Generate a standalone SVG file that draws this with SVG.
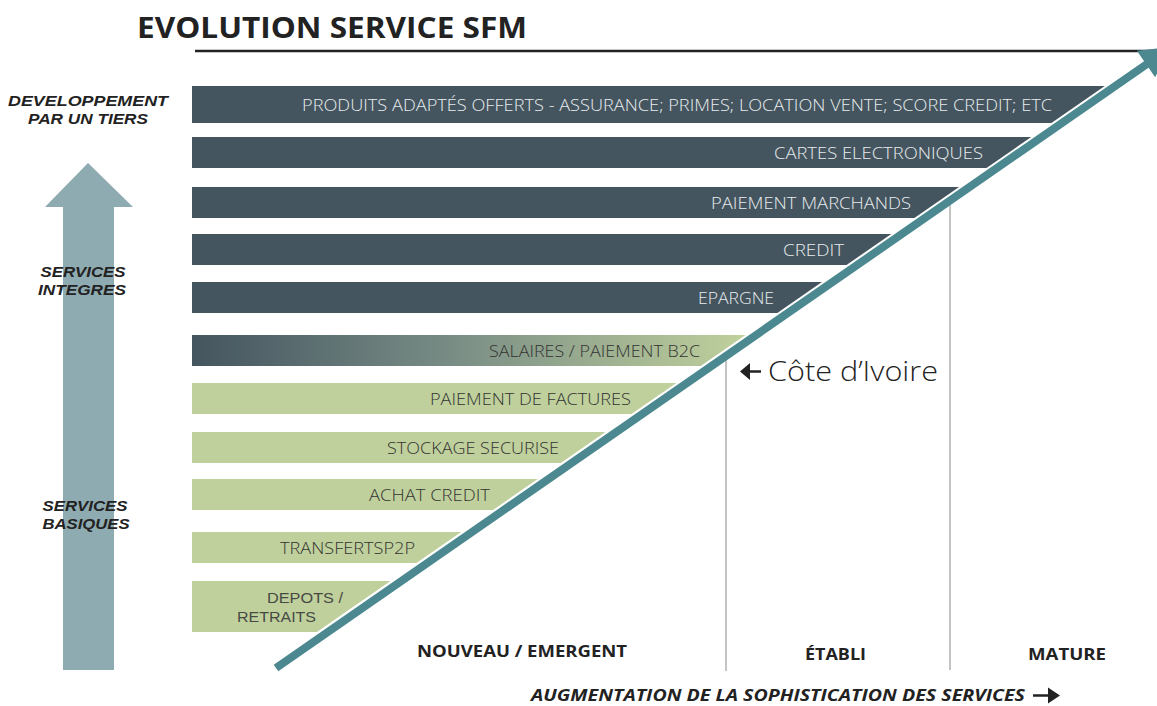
<svg xmlns="http://www.w3.org/2000/svg" width="1157" height="706" viewBox="0 0 1157 706">
<style>
.dark{fill:#44555f}
.green{fill:#bfd09c}
.lbl{font-family:"Open Sans","Liberation Sans",sans-serif;font-weight:300;font-size:16px;text-anchor:end}
.lbl2{font-family:"Liberation Sans","Open Sans",sans-serif;font-size:15px;text-anchor:end}
.lt{fill:#e8ecee}
.dk{fill:#333333}
.dk2{fill:#474a44}
.side{font-family:"Liberation Sans","Open Sans",sans-serif;font-weight:700;font-style:italic;font-size:14.5px;fill:#222222;text-anchor:middle}
.axis{font-family:"Open Sans","Liberation Sans",sans-serif;font-weight:700;font-size:16px;fill:#222222}
.div{stroke:#c4c4c4;stroke-width:2;fill:none}
</style>
<defs>
<linearGradient id="grad" gradientUnits="userSpaceOnUse" x1="192" y1="0" x2="745" y2="0">
<stop offset="0" stop-color="#44555f"/>
<stop offset="0.45" stop-color="#768a84"/>
<stop offset="1" stop-color="#c0d19c"/>
</linearGradient>
</defs>
<rect width="1157" height="706" fill="#ffffff"/>

<g id="title">
<text x="137" y="38" font-family="Open Sans, Liberation Sans, sans-serif" font-weight="700" font-size="29" fill="#222222" textLength="390" lengthAdjust="spacingAndGlyphs">EVOLUTION SERVICE SFM</text>
<line x1="195" y1="51" x2="1157" y2="51" stroke="#222222" stroke-width="2.5"/>
</g>

<g id="level-arrow">
<polygon points="63,207 45,207 88,163 133,207 114,207 114,670 63,670" fill="#8eabb1"/>
</g>

<g id="side-labels">
<text class="side" x="88" y="106" textLength="160" lengthAdjust="spacingAndGlyphs">DEVELOPPEMENT</text>
<text class="side" x="88" y="124" textLength="120" lengthAdjust="spacingAndGlyphs">PAR UN TIERS</text>
<text class="side" x="83" y="277" textLength="85" lengthAdjust="spacingAndGlyphs">SERVICES</text>
<text class="side" x="82" y="295" textLength="88" lengthAdjust="spacingAndGlyphs">INTEGRES</text>
<text class="side" x="85" y="511" textLength="85" lengthAdjust="spacingAndGlyphs">SERVICES</text>
<text class="side" x="86" y="529" textLength="87" lengthAdjust="spacingAndGlyphs">BASIQUES</text>
</g>

<g id="bar-produits">
<polygon class="dark" points="192,86 1104.8,86 1051.4,123 192,123"/>
<text class="lbl lt" x="1052" y="111" textLength="750" lengthAdjust="spacingAndGlyphs">PRODUITS ADAPTÉS OFFERTS - ASSURANCE; PRIMES; LOCATION VENTE; SCORE CREDIT; ETC</text>
</g>
<g id="bar-cartes">
<polygon class="dark" points="192,137 1031.2,137 986.5,168 192,168"/>
<text class="lbl lt" x="983" y="159" textLength="209" lengthAdjust="spacingAndGlyphs">CARTES ELECTRONIQUES</text>
</g>
<g id="bar-marchands">
<polygon class="dark" points="192,187 959.1,187 914.4,218 192,218"/>
<text class="lbl lt" x="911" y="209" textLength="200" lengthAdjust="spacingAndGlyphs">PAIEMENT MARCHANDS</text>
</g>
<g id="bar-credit">
<polygon class="dark" points="192,234 891.3,234 846.5,265 192,265"/>
<text class="lbl lt" x="844" y="256" textLength="61" lengthAdjust="spacingAndGlyphs">CREDIT</text>
</g>
<g id="bar-epargne">
<polygon class="dark" points="192,282 822,282 777.3,313 192,313"/>
<text class="lbl lt" x="774" y="304" textLength="76" lengthAdjust="spacingAndGlyphs">EPARGNE</text>
</g>
<g id="bar-salaires">
<polygon fill="url(#grad)" points="192,335 745.5,335 700.8,366 192,366"/>
<text class="lbl dk" x="700" y="357" textLength="211" lengthAdjust="spacingAndGlyphs">SALAIRES / PAIEMENT B2C</text>
</g>
<g id="bar-factures">
<polygon class="green" points="192,383 676.3,383 631.5,414 192,414"/>
<text class="lbl dk" x="631" y="405" textLength="201" lengthAdjust="spacingAndGlyphs">PAIEMENT DE FACTURES</text>
</g>
<g id="bar-stockage">
<polygon class="green" points="192,432 605.5,432 560.8,463 192,463"/>
<text class="lbl dk" x="559" y="454" textLength="172" lengthAdjust="spacingAndGlyphs">STOCKAGE SECURISE</text>
</g>
<g id="bar-achat">
<polygon class="green" points="192,479 537.7,479 493,510 192,510"/>
<text class="lbl dk" x="490" y="501" textLength="121" lengthAdjust="spacingAndGlyphs">ACHAT CREDIT</text>
</g>
<g id="bar-transferts">
<polygon class="green" points="192,532 461.2,532 416.5,563 192,563"/>
<text class="lbl dk" x="415" y="554" textLength="135" lengthAdjust="spacingAndGlyphs">TRANSFERTSP2P</text>
</g>
<g id="bar-depots">
<polygon class="green" points="192,581 390.5,581 316.9,632 192,632"/>
<text class="lbl2 dk2" x="343" y="603" textLength="76" lengthAdjust="spacingAndGlyphs">DEPOTS /</text>
<text class="lbl2 dk2" x="316" y="622" textLength="79" lengthAdjust="spacingAndGlyphs">RETRAITS</text>
</g>

<g id="dividers">
<line class="div" x1="726" y1="359" x2="726" y2="671"/>
<line class="div" x1="950" y1="205" x2="950" y2="670"/>
</g>

<g id="connectors">
<line x1="276" y1="668" x2="1147" y2="64" stroke="#4b8890" stroke-width="8"/>
<polygon points="1136.9,50.8 1170.7,46.9 1155.1,77.2" fill="#4b8890"/>
</g>

<g id="cote-ivoire">
<path d="M761,371.5 H748" stroke="#222222" stroke-width="2.5" fill="none"/>
<polygon points="740,371.5 750,363 750,380" fill="#222222"/>
<text x="768" y="381" font-family="Open Sans, Liberation Sans, sans-serif" font-weight="300" font-size="28" fill="#222222" textLength="170" lengthAdjust="spacingAndGlyphs">Côte d’Ivoire</text>
</g>

<g id="axis-labels">
<text class="axis" x="417" y="657" textLength="210" lengthAdjust="spacingAndGlyphs">NOUVEAU / EMERGENT</text>
<text class="axis" x="805" y="660" textLength="61" lengthAdjust="spacingAndGlyphs">ÉTABLI</text>
<text class="axis" x="1028" y="660" textLength="78" lengthAdjust="spacingAndGlyphs">MATURE</text>
<text class="axis" x="531" y="701" font-style="italic" textLength="494" lengthAdjust="spacingAndGlyphs">AUGMENTATION DE LA SOPHISTICATION DES SERVICES</text>
<path d="M1033,695.5 H1050" stroke="#222222" stroke-width="2.5" fill="none"/>
<polygon points="1060,695.5 1048,687.5 1048,703.5" fill="#222222"/>
</g>
</svg>
